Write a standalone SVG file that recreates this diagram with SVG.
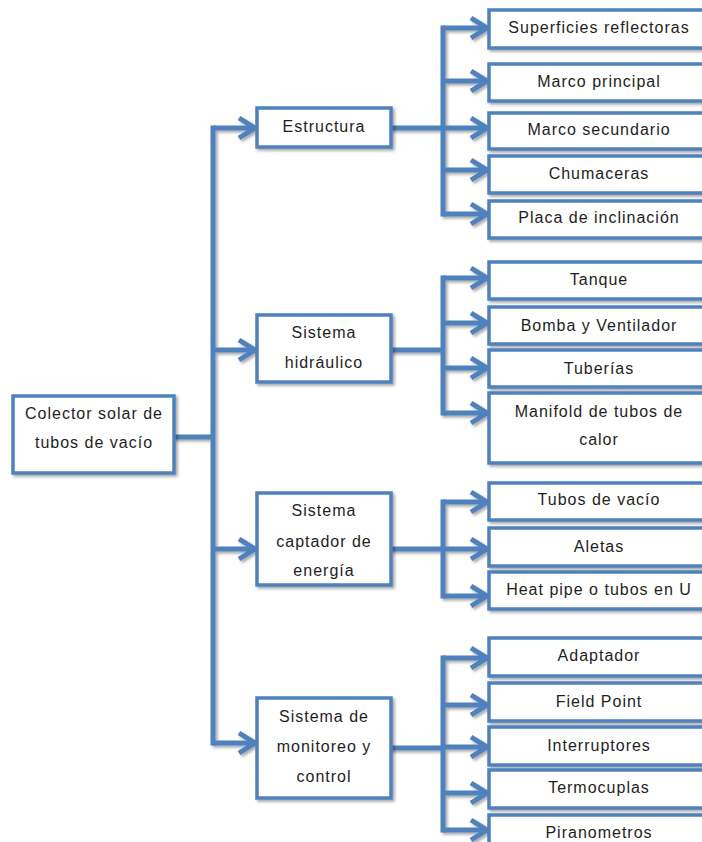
<svg xmlns="http://www.w3.org/2000/svg" width="702" height="842" viewBox="0 0 702 842">
<defs>
<filter id="sh" x="-10%" y="-20%" width="130%" height="150%">
<feDropShadow dx="2" dy="2" stdDeviation="1.5" flood-color="#000" flood-opacity="0.35"/>
</filter>
<marker id="arr" markerUnits="userSpaceOnUse" viewBox="-22 -14 26 28" refX="0" refY="0" markerWidth="26" markerHeight="28" orient="auto" overflow="visible">
<path d="M-18,-10 L-2,0 L-18,10" fill="none" stroke="#4F81BD" stroke-width="5" stroke-linejoin="miter"/>
</marker>
<style>
.box{fill:#fff;stroke:#4F81BD;stroke-width:3.5;filter:url(#sh)}
.ln{fill:none;stroke:#4F81BD;stroke-width:5;stroke-linecap:square}
.ar{fill:none;stroke:#4F81BD;stroke-width:5;marker-end:url(#arr)}
text{font-family:"Liberation Sans",Arial,sans-serif;font-size:16px;fill:#1e1e1e;text-anchor:middle;letter-spacing:1px}
</style>
</defs>
<rect width="702" height="842" fill="#fff"/>

<g id="connectors" filter="url(#sh)">
<path class="ln" d="M174,437 H213 M213,128 V743"/>
<path class="ar" d="M213,128 H257"/>
<path class="ar" d="M213,350 H257"/>
<path class="ar" d="M213,549 H257"/>
<path class="ar" d="M213,743 H257"/>
<path class="ln" d="M391,128 H443 M443,28 V214"/>
<path class="ar" d="M443,28 H489"/>
<path class="ar" d="M443,81 H489"/>
<path class="ar" d="M443,128 H489"/>
<path class="ar" d="M443,170 H489"/>
<path class="ar" d="M443,214 H489"/>
<path class="ln" d="M391,350 H443 M443,278 V413"/>
<path class="ar" d="M443,278 H489"/>
<path class="ar" d="M443,323 H489"/>
<path class="ar" d="M443,368 H489"/>
<path class="ar" d="M443,413 H489"/>
<path class="ln" d="M391,549 H443 M443,502 V596"/>
<path class="ar" d="M443,502 H489"/>
<path class="ar" d="M443,549 H489"/>
<path class="ar" d="M443,596 H489"/>
<path class="ln" d="M391,748 H443 M443,658 V830"/>
<path class="ar" d="M443,658 H489"/>
<path class="ar" d="M443,705 H489"/>
<path class="ar" d="M443,747 H489"/>
<path class="ar" d="M443,793 H489"/>
<path class="ar" d="M443,830 H489"/>
</g>

<g id="root"><rect class="box" x="13" y="396" width="161" height="77"/><text x="94" y="419">Colector solar de</text><text x="94" y="448">tubos de vacío</text></g>

<g id="estructura"><rect class="box" x="257" y="108" width="134" height="39"/><text x="324" y="132">Estructura</text></g>
<g id="hidraulico"><rect class="box" x="257" y="315" width="134" height="67"/><text x="324" y="338">Sistema</text><text x="324" y="368">hidráulico</text></g>
<g id="captador"><rect class="box" x="257" y="493" width="134" height="92"/><text x="324" y="516">Sistema</text><text x="324" y="547">captador de</text><text x="324" y="576">energía</text></g>
<g id="monitoreo"><rect class="box" x="257" y="698" width="134" height="100"/><text x="324" y="722">Sistema de</text><text x="324" y="752">monitoreo y</text><text x="324" y="782">control</text></g>

<g id="superficies"><rect class="box" x="489" y="10" width="222" height="38"/><text x="599" y="33">Superficies reflectoras</text></g>
<g id="marco-principal"><rect class="box" x="489" y="64" width="222" height="37"/><text x="599" y="87">Marco principal</text></g>
<g id="marco-secundario"><rect class="box" x="489" y="113" width="222" height="36"/><text x="599" y="135">Marco secundario</text></g>
<g id="chumaceras"><rect class="box" x="489" y="156" width="222" height="37"/><text x="599" y="179">Chumaceras</text></g>
<g id="placa"><rect class="box" x="489" y="201" width="222" height="37"/><text x="599" y="223">Placa de inclinación</text></g>

<g id="tanque"><rect class="box" x="489" y="262" width="222" height="37"/><text x="599" y="285">Tanque</text></g>
<g id="bomba"><rect class="box" x="489" y="307" width="222" height="37"/><text x="599" y="331">Bomba y Ventilador</text></g>
<g id="tuberias"><rect class="box" x="489" y="350" width="222" height="37"/><text x="599" y="374">Tuberías</text></g>
<g id="manifold"><rect class="box" x="489" y="393" width="222" height="70"/><text x="599" y="417">Manifold de tubos de</text><text x="599" y="445">calor</text></g>

<g id="tubos-vacio"><rect class="box" x="489" y="483" width="222" height="37"/><text x="599" y="505">Tubos de vacío</text></g>
<g id="aletas"><rect class="box" x="489" y="528" width="222" height="38"/><text x="599" y="552">Aletas</text></g>
<g id="heat-pipe"><rect class="box" x="489" y="572" width="222" height="37"/><text x="599" y="595">Heat pipe o tubos en U</text></g>

<g id="adaptador"><rect class="box" x="489" y="638" width="222" height="38"/><text x="599" y="661">Adaptador</text></g>
<g id="field-point"><rect class="box" x="489" y="683" width="222" height="38"/><text x="599" y="707">Field Point</text></g>
<g id="interruptores"><rect class="box" x="489" y="727" width="222" height="38"/><text x="599" y="751">Interruptores</text></g>
<g id="termocuplas"><rect class="box" x="489" y="770" width="222" height="38"/><text x="599" y="793">Termocuplas</text></g>
<g id="piranometros"><rect class="box" x="489" y="815" width="222" height="45"/><text x="599" y="838">Piranometros</text></g>
</svg>
